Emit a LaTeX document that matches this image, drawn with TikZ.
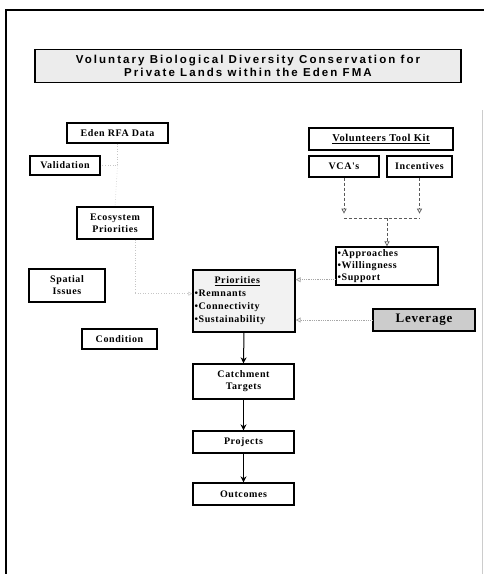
\documentclass[tikz,border=0pt]{standalone}
\usepackage{fontspec}
\setmainfont{Liberation Serif}
\newfontfamily\titlefont[LetterSpace=18]{Liberation Sans}
\newfontfamily\labelfont[LetterSpace=6]{Liberation Serif}
\usetikzlibrary{arrows.meta,calc}
\begin{document}
\begin{tikzpicture}[x=1pt,y=-1pt,
  box/.style={draw=black,line width=1.3pt,rectangle,inner sep=0pt,align=center,
    font=\labelfont\bfseries\fontsize{10}{12}\selectfont},
  hint/.style={gray!45,dotted,line width=0.6pt},
  openarr/.style={gray!70!black,densely dashed,line width=0.7pt,-{Triangle[open,length=5pt,width=5pt]}},
  dotarr/.style={gray!70,densely dotted,line width=0.8pt,-{Triangle[open,length=5pt,width=5pt]}},
  flow/.style={black,line width=1pt,-{Stealth[length=6pt,width=6pt]}}]
\useasboundingbox (0,0) rectangle (484,574);
% frame
\draw[line width=2.5pt] (6,574) -- (6,10) -- (484,10);
\draw[gray!40,line width=0.6pt] (482,110) -- (482,574);
% title
\node[box,fill=gray!15,minimum width=426pt,minimum height=33pt,
  font=\titlefont\bfseries\fontsize{11.5}{13}\selectfont] (title) at (248,66)
  {Voluntary Biological Diversity Conservation for\\Private Lands within the Eden FMA};
% left column
\node[box,minimum width=101pt,minimum height=20pt] (eden) at (117.5,133) {Eden RFA Data};
\node[box,minimum width=70pt,minimum height=19pt] (valid) at (65,165.5) {Validation};
\node[box,minimum width=76pt,minimum height=32pt] (eco) at (115,223) {Ecosystem\\Priorities};
\node[box,minimum width=76pt,minimum height=33pt] (spatial) at (67,285.5) {Spatial\\Issues};
\node[box,minimum width=75pt,minimum height=20pt] (cond) at (119.5,339) {Condition};
% priorities
\node[box,fill=gray!10,minimum width=102pt,minimum height=62pt,text width=99pt,align=left,
  font=\labelfont\bfseries\fontsize{10}{13}\selectfont] (prio) at (244,301)
  {\hspace*{20pt}\underline{Priorities}\\•Remnants\\•Connectivity\\•Sustainability};
% right column
\node[box,minimum width=144pt,minimum height=22pt,font=\labelfont\bfseries\fontsize{10.5}{12}\selectfont] (vtk) at (381,139) {\underline{Volunteers Tool Kit}};
\node[box,minimum width=70pt,minimum height=21pt] (vca) at (344,166.5) {VCA's};
\node[box,minimum width=65pt,minimum height=21pt] (inc) at (419.5,166.5) {Incentives};
\node[box,minimum width=102pt,minimum height=38pt,text width=99pt,align=left,
  font=\labelfont\bfseries\fontsize{10}{12}\selectfont] (appr) at (387,266)
  {•Approaches\\•Willingness\\•Support};
\node[box,fill=gray!40,minimum width=102pt,minimum height=22pt,
  font=\labelfont\bfseries\fontsize{13}{14}\selectfont] (lev) at (424,320) {Leverage};
% lower chain
\node[box,minimum width=101pt,minimum height=35pt] (catch) at (243.5,381.5) {Catchment\\Targets};
\node[box,minimum width=101pt,minimum height=22pt] (proj) at (243.5,442) {Projects};
\node[box,minimum width=101pt,minimum height=22pt] (out) at (243.5,494) {Outcomes};
% tool kit connectors
\coordinate (bl) at ($(vca.south)+(0,40.5)$);
\coordinate (br) at (inc.south |- bl);
\coordinate (bm) at (appr.north |- bl);
\draw[openarr] (vca.south) -- ($(vca.south)+(0,36)$);
\draw[openarr] (inc.south) -- ($(inc.south)+(0,36)$);
\draw[gray!70!black,densely dashed,line width=0.7pt] (bl) -- (br);
\draw[openarr] (bm) -- (appr.north);
\coordinate (ap) at ($(appr.south west)+(0,-6)$);
\draw[dotarr] (ap) -- (prio.east |- ap);
\draw[dotarr] (lev.west) -- (prio.east |- lev.west);
% faint left connectors
\coordinate (c1) at (eden.south |- valid.east);
\draw[hint] (eden.south) -- (c1) -- (valid.east);
\draw[hint] (c1) -- (eco.north);
\coordinate (e1) at ($(eco.south)+(20,0)$);
\coordinate (j) at ($(e1)+(0,54)$);
\draw[hint] (e1) -- (j);
\draw[hint,-{Triangle[open,length=4pt,width=4pt]}] (j) -- (prio.west |- j);
% main flow
\draw[flow] (prio.south) -- (catch.north);
\draw[flow] (catch.south) -- (proj.north);
\draw[flow] (proj.south) -- (out.north);
\end{tikzpicture}
\end{document}
